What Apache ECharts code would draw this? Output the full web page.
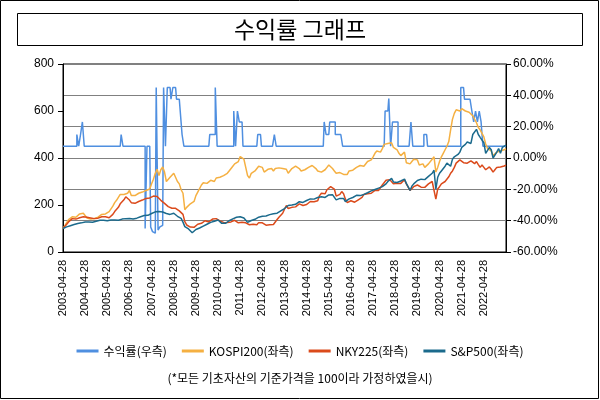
<!DOCTYPE html>
<html><head><meta charset="utf-8">
<script src="https://cdn.jsdelivr.net/npm/echarts@6/dist/echarts.min.js"></script>
<style>html,body{margin:0;padding:0;background:#fff}#c{width:600px;height:400px}</style>
</head><body><div id="c"></div>
<script>
// categories: monthly dates (28th) from 2003-04 to 2023-04
const startYear = 2003, startMonth = 4, monthCount = 241;
const categories = [];
for (let k = 0; k < monthCount; k++) {
  const m = startMonth - 1 + k;
  const y = startYear + Math.floor(m / 12);
  const mm = (m % 12) + 1;
  categories.push(y + '-' + String(mm).padStart(2, '0') + '-28');
}

// 수익률 (%), right axis
const returnRate = [
  7.5,7.5,7.5,7.5,7.5,7.5,7.5,7.5,15,7.5,15,23,
  7.5,7.5,7.5,7.5,7.5,7.5,7.5,7.5,7.5,7.5,7.5,7.5,
  7.5,7.5,7.5,7.5,7.5,7.5,7.5,7.5,15,7.5,7.5,7.5,
  7.5,7.5,7.5,7.5,7.5,7.5,7.5,7.5,7.5,-45,7.5,7.5,
  -44,-47,-48,45,-46,-44,-43,45,7.5,45,45,37.5,
  45,45,37.5,37.5,30,15,7.5,7.5,7.5,7.5,7.5,7.5,
  7.5,7.5,7.5,7.5,7.5,7.5,7.5,7.5,15,15,15,45,
  7.5,7.5,7.5,7.5,7.5,7.5,7.5,7.5,7.5,30,7.5,30,
  23,23,7.5,7.5,7.5,7.5,7.5,7.5,7.5,7.5,15,15,
  7.5,7.5,7.5,7.5,7.5,7.5,7.5,15,7.5,7.5,7.5,7.5,
  7.5,7.5,7.5,7.5,7.5,7.5,7.5,7.5,7.5,7.5,7.5,7.5,
  7.5,7.5,7.5,7.5,7.5,7.5,7.5,7.5,7.5,7.5,23,15,
  15,23,23,23,15,15,15,15,7.5,7.5,7.5,7.5,
  7.5,7.5,7.5,7.5,7.5,7.5,7.5,7.5,7.5,7.5,7.5,7.5,
  7.5,7.5,7.5,7.5,7.5,7.5,7.5,30,30,38,7.5,23,
  23,23,7.5,7.5,7.5,7.5,7.5,7.5,7.5,23,7.5,7.5,
  7.5,7.5,7.5,7.5,15,15,7.5,7.5,7.5,7.5,7.5,7.5,
  7.5,7.5,7.5,7.5,7.5,7.5,7.5,7.5,7.5,7.5,7.5,7.5,
  45,45,37.5,37.5,37.5,37.5,30,23,30,23,30,23,
  7.5,7.5,7.5,7.5,7.5,7.5,7.5,7.5,7.5,7.5,7.5,7.5,7.5
];

// KOSPI200 (left axis, base 100)
const kospi200 = [
  100,112,125,138,142,150,152,148,155,162,158,165,
  160,145,143,140,138,143,150,148,155,160,165,162,
  160,172,180,195,210,220,228,245,252,245,242,250,
  262,240,232,240,245,250,252,255,260,262,258,268,
  290,310,335,352,325,350,362,340,300,305,318,320,
  335,332,300,290,265,250,180,190,195,205,200,215,
  240,255,260,285,295,300,292,290,305,308,300,315,
  322,318,315,325,330,335,345,352,365,375,368,385,
  406,400,395,398,325,315,335,330,345,350,365,368,
  360,340,345,352,348,355,345,355,362,358,360,355,
  350,352,335,340,355,362,365,360,355,345,348,350,
  355,360,358,368,365,355,345,348,340,342,350,360,
  370,362,355,345,335,330,338,335,330,325,330,345,
  350,348,355,360,365,368,360,365,370,385,388,392,
  405,420,430,432,425,440,458,455,462,470,465,445,
  445,435,420,410,415,425,380,385,375,385,395,390,
  392,370,372,375,360,365,375,378,395,405,340,360,
  385,405,420,435,450,470,520,565,590,605,598,600,
  610,605,600,608,595,590,580,565,550,530,520,505,
  490,460,440,445,430,410,415,425,420,430,428,435,440
];

// NKY225 (left axis, base 100)
const nky225 = [
  100,108,118,128,135,142,145,140,142,146,144,150,
  152,148,150,145,140,142,143,144,148,150,152,150,
  148,146,150,160,172,180,190,205,212,222,235,228,
  221,210,205,207,212,215,218,221,222,228,235,230,
  235,238,243,236,228,220,215,207,203,193,192,186,
  190,186,180,175,168,160,129,115,110,106,102,105,
  112,118,120,122,128,133,131,128,136,140,137,142,
  143,132,128,126,124,125,123,128,132,135,136,124,
  128,127,126,124,118,116,115,118,120,116,125,130,
  124,117,114,115,116,118,117,122,138,148,155,165,
  182,198,185,188,190,186,192,195,205,208,198,200,
  202,208,215,218,214,220,218,240,250,245,248,265,
  272,278,275,268,238,230,245,257,248,225,210,218,
  218,222,212,220,222,226,232,245,250,248,252,250,
  255,262,264,262,270,285,292,305,310,308,312,290,
  290,292,290,292,296,308,290,285,262,270,278,275,
  285,278,276,280,275,280,290,298,300,306,225,268,
  278,290,295,300,305,320,335,345,360,378,385,392,
  390,380,385,378,372,388,382,376,385,372,360,370,
  360,350,345,362,352,340,350,360,352,362,358,366,370
];

// S&P500 (left axis, base 100)
const sp500 = [
  100,104,107,109,112,115,117,119,121,123,124,126,
  128,127,128,126,127,130,131,134,135,133,135,134,
  133,135,136,137,136,137,135,139,140,139,142,141,
  143,141,140,142,144,147,150,153,155,157,156,160,
  164,167,171,169,172,174,170,172,164,157,160,158,
  165,163,152,145,143,127,108,100,98,92,82,86,
  96,100,102,106,110,115,118,122,126,129,131,134,
  136,133,122,126,122,128,133,136,141,144,148,150,
  150,148,145,143,126,125,134,136,139,143,148,153,
  152,150,153,157,159,160,163,162,165,170,175,180,
  185,190,198,196,200,205,203,210,214,215,211,218,
  219,222,226,228,225,230,232,228,235,237,232,240,
  243,242,244,238,222,214,228,232,228,214,213,226,
  230,232,235,241,242,240,236,245,249,252,258,260,
  262,266,270,272,274,278,283,290,300,306,313,298,
  292,296,298,302,306,310,292,285,262,280,290,294,
  304,296,310,314,308,315,322,328,335,348,268,318,
  335,345,352,365,378,370,365,395,405,410,415,425,
  445,452,458,468,475,462,500,505,522,500,488,495,
  465,420,415,445,435,400,405,425,440,420,445,448,455
];

const seriesNames = ['수익률(우측)', 'KOSPI200(좌측)', 'NKY225(좌측)', 'S&P500(좌측)'];
const seriesColors = ['#4F8FE0', '#F5B042', '#DB4A1B', '#1B6A8C'];
const leftAxisRange = [0, 800, 200];
const rightAxisRange = [-60, 60, 20];
const titleText = '수익률 그래프';
const noteText = '(*모든 기초자산의 기준가격을 100이라 가정하였을시)';

const FONT = '"Liberation Sans", "Noto Sans CJK KR", sans-serif';
const KFONT = '"Noto Sans CJK KR", "Liberation Sans", sans-serif';

const chart = echarts.init(document.getElementById('c'), null, {renderer: 'canvas'});
const mk = (name, data, color, axis, step) => ({
  name, type: 'line', data, yAxisIndex: axis, symbol: 'none', showSymbol: false, step: step || false,
  lineStyle: {color, width: 1.5}, itemStyle: {color}, animation: false
});
chart.setOption({
  animation: false,
  backgroundColor: '#fff',
  textStyle: {fontFamily: FONT},
  graphic: [
    {type: 'rect', shape: {x: 0.5, y: 0.5, width: 598, height: 398}, style: {fill: 'none', stroke: '#000', lineWidth: 1}, silent: true},
    {type: 'rect', shape: {x: 17.5, y: 13.5, width: 565, height: 32}, style: {fill: '#fff', stroke: '#000', lineWidth: 1}, silent: true},
    {type: 'text', x: 300, y: 29, style: {text: titleText, fill: '#000', font: '23px ' + KFONT, textAlign: 'center', textVerticalAlign: 'middle'}, silent: true},
    {type: 'text', x: 300, y: 378, style: {text: noteText, fill: '#000', font: '12px ' + KFONT, textAlign: 'center', textVerticalAlign: 'middle'}, silent: true}
  ],
  legend: {
    data: seriesNames, left: 'center', top: 340, icon: 'rect', itemWidth: 22, itemHeight: 3, itemGap: 15,
    textStyle: {fontSize: 12, color: '#000', fontFamily: KFONT}
  },
  grid: {left: 63, right: 94, top: 64, bottom: 148, show: true, borderColor: '#000', borderWidth: 1, backgroundColor: 'transparent'},
  xAxis: {
    type: 'category', data: categories, boundaryGap: false,
    axisLine: {lineStyle: {color: '#000'}}, axisTick: {show: false},
    axisLabel: {rotate: 90, fontSize: 11, color: '#000', margin: 8,
      interval: (idx) => idx % 12 === 0 && idx < 240},
    splitLine: {show: false}
  },
  yAxis: [
    {type: 'value', min: leftAxisRange[0], max: leftAxisRange[1], interval: leftAxisRange[2], position: 'left',
      axisLine: {show: true, lineStyle: {color: '#000'}}, axisTick: {show: true, length: 5, lineStyle: {color: '#000'}},
      axisLabel: {fontSize: 12, color: '#000', margin: 9}, splitLine: {show: false}},
    {type: 'value', min: rightAxisRange[0], max: rightAxisRange[1], interval: rightAxisRange[2], position: 'right',
      axisLine: {show: true, lineStyle: {color: '#000'}}, axisTick: {show: true, length: 5, lineStyle: {color: '#000'}},
      axisLabel: {fontSize: 12, color: '#000', margin: 7, formatter: (v) => v.toFixed(2) + '%'},
      splitLine: {show: true, lineStyle: {color: '#808080', width: 1}}}
  ],
  series: [
    mk(seriesNames[0], returnRate, seriesColors[0], 1, 'middle'),
    mk(seriesNames[1], kospi200, seriesColors[1], 0),
    mk(seriesNames[2], nky225, seriesColors[2], 0),
    mk(seriesNames[3], sp500, seriesColors[3], 0)
  ]
});
</script></body></html>
